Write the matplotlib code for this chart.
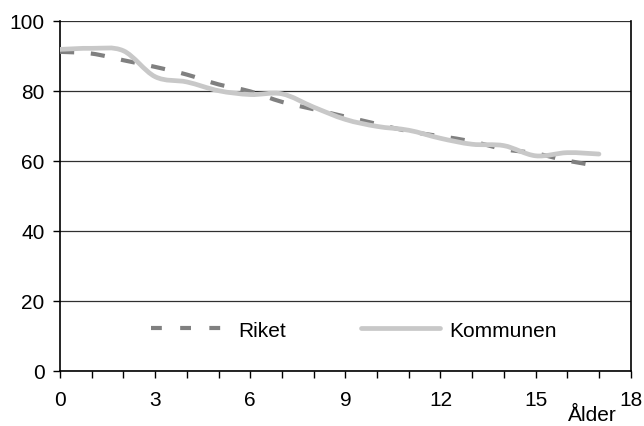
import matplotlib

matplotlib.use("Agg")

import matplotlib.pyplot as plt
import numpy as np
from matplotlib.lines import Line2D
from matplotlib.patches import PathPatch
from matplotlib.path import Path

plt.rcParams["font.family"] = ["Liberation Sans", "DejaVu Sans"]

ages = [0, 1, 2, 3, 4, 5, 6, 7, 8, 9, 10, 11, 12, 13, 14, 15, 16, 17]
riket = [91.1, 90.6, 88.7, 86.8, 84.6, 81.8, 79.8, 76.8, 74.7, 72.6,
         70.5, 68.4, 67.0, 65.5, 63.3, 62.1, 60.0, 58.5]
kommunen = [91.8, 92.1, 91.4, 84.0, 82.5, 80.0, 78.9, 79.1, 75.3, 71.8,
            69.8, 68.7, 66.4, 64.7, 64.3, 61.4, 62.3, 61.9]
x_ticks = [0, 3, 6, 9, 12, 15, 18]
y_ticks = [0, 20, 40, 60, 80, 100]


def smooth_path(xs, ys):
    """Excel-like smoothed line: Catmull-Rom segments as cubic Beziers."""
    pts = np.column_stack([xs, ys]).astype(float)
    n = len(pts)
    verts = [pts[0]]
    codes = [Path.MOVETO]
    for i in range(n - 1):
        p0 = pts[max(i - 1, 0)]
        p1 = pts[i]
        p2 = pts[i + 1]
        p3 = pts[min(i + 2, n - 1)]
        verts += [p1 + (p2 - p0) / 6, p2 - (p3 - p1) / 6, p2]
        codes += [Path.CURVE4] * 3
    return Path(verts, codes)


FS = 15

fig = plt.figure(figsize=(6.44, 4.27), dpi=100)
ax = fig.add_axes([0.0932, 0.1295, 0.8861, 0.8197])

riket_col, komm_col = "#808080", "#c8c8c8"

ax.add_patch(PathPatch(smooth_path(ages, riket), fill=False, color=riket_col,
                       lw=3.0, ls=(0, (3.4, 4.0)), capstyle="butt", zorder=3))
ax.add_patch(PathPatch(smooth_path(ages, kommunen), fill=False, color=komm_col,
                       lw=3.4, capstyle="round", zorder=4))

ax.set_xlim(0, 18)
ax.set_ylim(0, 100)
ax.set_xticks(x_ticks)
ax.set_xticks(range(0, 19), minor=True)
ax.set_yticks(y_ticks)
ax.yaxis.grid(True, color="#303030", lw=0.9)
ax.set_axisbelow(True)
ax.tick_params(axis="both", which="both", direction="out", length=5,
               width=1, labelsize=FS, colors="black")
ax.tick_params(axis="x", pad=9)
ax.tick_params(axis="y", pad=6)
for side in ("left", "bottom", "right"):
    ax.spines[side].set_linewidth(1.2)
ax.spines["top"].set_visible(False)

ax.text(16.8, -0.142, "Ålder", transform=ax.get_xaxis_transform(),
        ha="center", va="baseline", fontsize=FS)

handles = [
    Line2D([], [], color=riket_col, lw=3.0, ls=(0, (2.6, 4.4)),
           dash_capstyle="butt"),
    Line2D([], [], color=komm_col, lw=3.4, solid_capstyle="round"),
]
ax.legend(handles, ["Riket", "Kommunen"], loc="center left",
          bbox_to_anchor=(0.1595, 0.116), ncol=2, frameon=False,
          fontsize=FS, handlelength=3.8, handletextpad=0.4,
          columnspacing=3.6, borderpad=0, borderaxespad=0)

fig.savefig("out.png", dpi=100)
